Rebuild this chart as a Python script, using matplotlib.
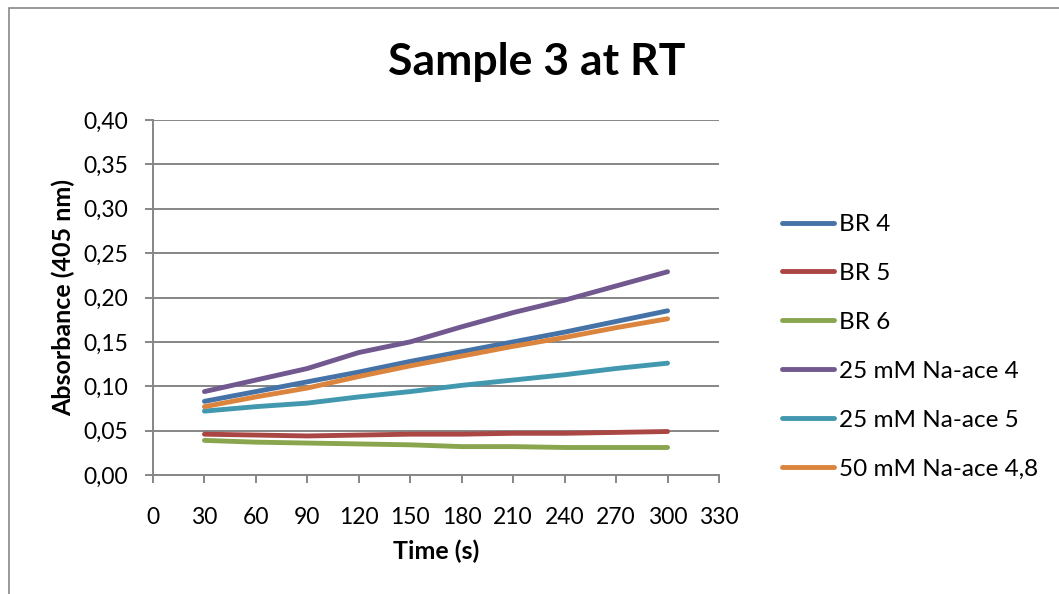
import matplotlib
matplotlib.use('Agg')
import matplotlib.pyplot as plt
from matplotlib.ticker import FuncFormatter, MultipleLocator
from matplotlib.patches import Rectangle

plt.rcParams['font.family'] = ['Lato', 'DejaVu Sans']

# Zeitpunkte und Messwerte (Absorption bei 405 nm)
time_s = [30, 60, 90, 120, 150, 180, 210, 240, 270, 300]
br4 = [0.083, 0.094, 0.105, 0.116, 0.128, 0.139, 0.150, 0.161, 0.173, 0.185]
br5 = [0.046, 0.045, 0.044, 0.045, 0.046, 0.046, 0.047, 0.047, 0.048, 0.049]
br6 = [0.039, 0.037, 0.036, 0.035, 0.034, 0.032, 0.032, 0.031, 0.031, 0.031]
na25_4 = [0.094, 0.107, 0.120, 0.138, 0.150, 0.167, 0.183, 0.197, 0.213, 0.229]
na25_5 = [0.072, 0.077, 0.081, 0.088, 0.094, 0.101, 0.107, 0.113, 0.120, 0.126]
na50_48 = [0.077, 0.088, 0.098, 0.111, 0.123, 0.134, 0.145, 0.155, 0.166, 0.176]

reihen = [
    ('BR 4', br4, '#4572A7'),
    ('BR 5', br5, '#AA4643'),
    ('BR 6', br6, '#89A54E'),
    ('25 mM Na-ace 4', na25_4, '#71588F'),
    ('25 mM Na-ace 5', na25_5, '#4198AF'),
    ('50 mM Na-ace 4,8', na50_48, '#DB843D'),
]

fig = plt.figure(figsize=(10.59, 5.94), dpi=100)
# Rahmen um das Diagramm
fig.patches.append(Rectangle((9 / 1059, -0.1), 1.2, 1 - 8 / 594 + 0.1,
                             transform=fig.transFigure, fill=False,
                             edgecolor='#888888', lw=1.2))

ax = fig.add_axes([153 / 1059, 1 - 475 / 594, 566 / 1059, 355 / 594])

for name, werte, farbe in reihen:
    ax.plot(time_s, werte, color=farbe, lw=3.5, label=name,
            solid_capstyle='round', solid_joinstyle='round')

ax.set_xlim(0, 330)
ax.set_ylim(0, 0.40)
ax.xaxis.set_major_locator(MultipleLocator(30))
ax.yaxis.set_major_locator(MultipleLocator(0.05))
ax.yaxis.set_major_formatter(FuncFormatter(lambda v, p: f'{v:.2f}'.replace('.', ',')))

ax.grid(axis='y', color='#868686', lw=1.4)
ax.set_axisbelow(True)
for s in ['top', 'right']:
    ax.spines[s].set_visible(False)
for s in ['left', 'bottom']:
    ax.spines[s].set_color('#868686')
    ax.spines[s].set_linewidth(1.4)
ax.tick_params(colors='#868686', labelcolor='black', labelsize=16.5,
               length=6, width=1.4)
ax.tick_params(axis='x', pad=17)
ax.tick_params(axis='y', pad=12)

ax.set_xlabel('Time (s)', fontsize=18, fontweight='bold', labelpad=8)
ax.set_ylabel('Absorbance (405 nm)', fontsize=18, fontweight='bold', labelpad=6)
fig.text(537 / 1059, 1 - 62 / 594, 'Sample 3 at RT', fontsize=32,
         fontweight='bold', ha='center', va='center')

ax.legend(loc='upper left', bbox_to_anchor=((782 - 153) / 566, (475 - 214) / 355),
          frameon=False, fontsize=17.5, handlelength=2.15, handletextpad=0.2,
          labelspacing=1.15, borderaxespad=0, borderpad=0)

fig.savefig('out.png', dpi=100)
